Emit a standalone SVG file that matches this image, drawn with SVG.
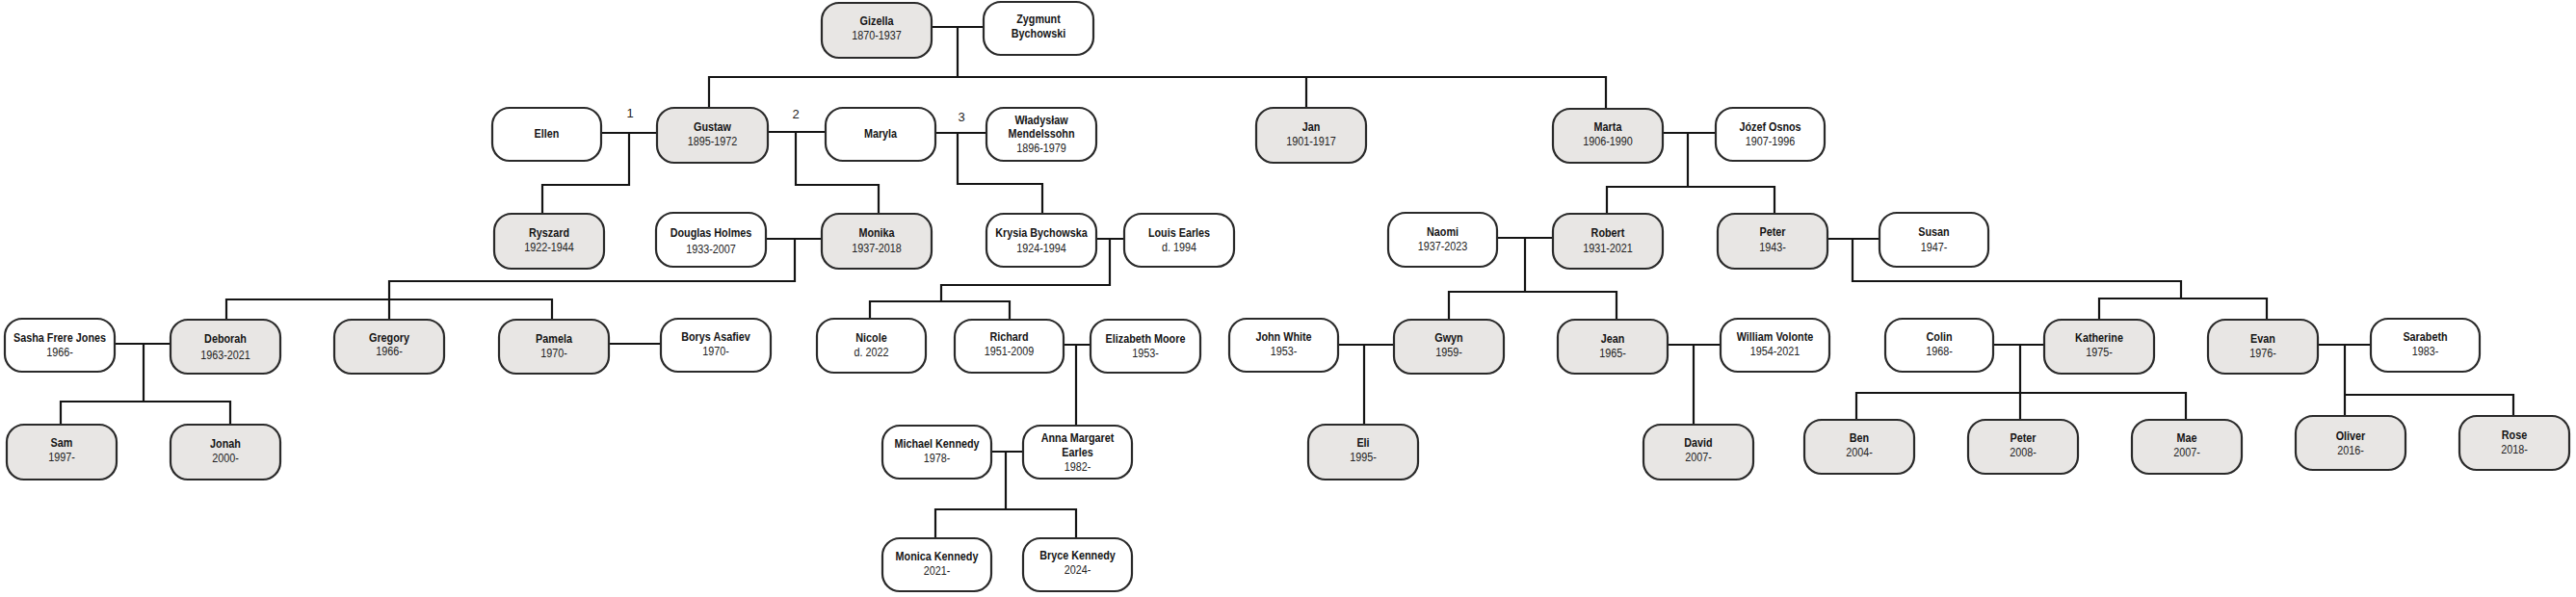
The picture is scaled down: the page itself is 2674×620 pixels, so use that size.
<svg xmlns="http://www.w3.org/2000/svg" width="2674" height="620" viewBox="0 0 2674 620">
<style>
.bg{fill:#ffffff}
.box{stroke:#2a2a2a;stroke-width:2.2}
.g{fill:#e8e6e4}
.w{fill:#ffffff}
.n{font-family:"Liberation Sans",Arial,sans-serif;font-size:13.5px;font-weight:bold;fill:#141414;text-anchor:middle}
.d{font-family:"Liberation Sans",Arial,sans-serif;font-size:13.5px;fill:#222222;text-anchor:middle}
.lbl{font-family:"Liberation Sans",Arial,sans-serif;font-size:13px;fill:#222222;text-anchor:middle}
.c{fill:none;stroke:#141414;stroke-width:2.2;stroke-linecap:square}
</style>
<rect class="bg" x="0" y="0" width="2674" height="620"/>
<g id="connectors">
<path class="c" d="M967,28 H1021 M994,28 V80 M736,80 H1667 M736,80 V112 M1356,80 V112 M1667,80 V113"/>
<path class="c" d="M624,138 H682 M653,138 V192 H563 V222"/>
<path class="c" d="M797,137 H857 M826,137 V192 H912 V222"/>
<path class="c" d="M971,138 H1024 M994,138 V191 H1082 V222"/>
<path class="c" d="M1726,138 H1781 M1752,138 V194 M1668,222 V194 H1842 V222"/>
<path class="c" d="M795,248 H853 M825,248 V292 H404 V332 M235,332 V311 H573 V332"/>
<path class="c" d="M1138,248 H1167 M1152,248 V296 H977 V313 M903,332 V313 H1048 V332"/>
<path class="c" d="M1554,247 H1612 M1583,247 V303 M1504,332 V303 H1678 V332"/>
<path class="c" d="M1897,248 H1951 M1923,248 V292 H2264 V310 M2179,332 V310 H2353 V332"/>
<path class="c" d="M119,357 H177 M149,357 V417 M63,441 V417 H239 V441"/>
<path class="c" d="M632,357 H686"/>
<path class="c" d="M1104,358 H1132 M1117,358 V442"/>
<path class="c" d="M1389,358 H1447 M1416,358 V441"/>
<path class="c" d="M1731,358 H1786 M1758,358 V441"/>
<path class="c" d="M2069,358 H2122 M2097,358 V436 M1927,436 V408 H2269 V436"/>
<path class="c" d="M2406,358 H2461 M2434,358 V432 M2434,410 H2609 V432"/>
<path class="c" d="M1029,469 H1062 M1044,469 V529 M971,559 V529 H1117 V559"/>
<text class="lbl" x="654" y="122">1</text>
<text class="lbl" x="826" y="123">2</text>
<text class="lbl" x="998" y="126">3</text>
</g>
<g id="gizella"><rect class="box g" x="853" y="3" width="114" height="57" rx="18"/><g transform="translate(910 0) scale(0.8 1)"><text class="n" x="0" y="26">Gizella</text><text class="d" x="0" y="41">1870-1937</text></g></g>
<g id="zygmunt"><rect class="box w" x="1021" y="2" width="114" height="55" rx="18"/><g transform="translate(1078 0) scale(0.8 1)"><text class="n" x="0" y="24">Zygmunt</text><text class="n" x="0" y="39">Bychowski</text></g></g>
<g id="ellen"><rect class="box w" x="511" y="112" width="113" height="55" rx="18"/><g transform="translate(567.5 0) scale(0.8 1)"><text class="n" x="0" y="143">Ellen</text></g></g>
<g id="gustaw"><rect class="box g" x="682" y="112" width="115" height="57" rx="18"/><g transform="translate(739.5 0) scale(0.8 1)"><text class="n" x="0" y="136">Gustaw</text><text class="d" x="0" y="151">1895-1972</text></g></g>
<g id="maryla"><rect class="box w" x="857" y="112" width="114" height="55" rx="18"/><g transform="translate(914 0) scale(0.8 1)"><text class="n" x="0" y="143">Maryla</text></g></g>
<g id="wladyslaw"><rect class="box w" x="1024" y="112" width="114" height="55" rx="18"/><g transform="translate(1081 0) scale(0.8 1)"><text class="n" x="0" y="129">Władysław</text><text class="n" x="0" y="143">Mendelssohn</text><text class="d" x="0" y="158">1896-1979</text></g></g>
<g id="jan"><rect class="box g" x="1304" y="112" width="114" height="57" rx="18"/><g transform="translate(1361 0) scale(0.8 1)"><text class="n" x="0" y="136">Jan</text><text class="d" x="0" y="151">1901-1917</text></g></g>
<g id="marta"><rect class="box g" x="1612" y="113" width="114" height="56" rx="18"/><g transform="translate(1669 0) scale(0.8 1)"><text class="n" x="0" y="136">Marta</text><text class="d" x="0" y="151">1906-1990</text></g></g>
<g id="jozef"><rect class="box w" x="1781" y="112" width="113" height="55" rx="18"/><g transform="translate(1837.5 0) scale(0.8 1)"><text class="n" x="0" y="136">Józef Osnos</text><text class="d" x="0" y="151">1907-1996</text></g></g>
<g id="ryszard"><rect class="box g" x="513" y="222" width="114" height="57" rx="18"/><g transform="translate(570 0) scale(0.8 1)"><text class="n" x="0" y="246">Ryszard</text><text class="d" x="0" y="261">1922-1944</text></g></g>
<g id="douglas"><rect class="box w" x="681" y="221" width="114" height="56" rx="18"/><g transform="translate(738 0) scale(0.8 1)"><text class="n" x="0" y="246">Douglas Holmes</text><text class="d" x="0" y="263">1933-2007</text></g></g>
<g id="monika"><rect class="box g" x="853" y="222" width="114" height="57" rx="18"/><g transform="translate(910 0) scale(0.8 1)"><text class="n" x="0" y="246">Monika</text><text class="d" x="0" y="262">1937-2018</text></g></g>
<g id="krysia"><rect class="box w" x="1024" y="222" width="114" height="55" rx="18"/><g transform="translate(1081 0) scale(0.8 1)"><text class="n" x="0" y="246">Krysia Bychowska</text><text class="d" x="0" y="262">1924-1994</text></g></g>
<g id="louis"><rect class="box w" x="1167" y="222" width="114" height="55" rx="18"/><g transform="translate(1224 0) scale(0.8 1)"><text class="n" x="0" y="246">Louis Earles</text><text class="d" x="0" y="261">d. 1994</text></g></g>
<g id="naomi"><rect class="box w" x="1441" y="221" width="113" height="56" rx="18"/><g transform="translate(1497.5 0) scale(0.8 1)"><text class="n" x="0" y="245">Naomi</text><text class="d" x="0" y="260">1937-2023</text></g></g>
<g id="robert"><rect class="box g" x="1612" y="222" width="114" height="57" rx="18"/><g transform="translate(1669 0) scale(0.8 1)"><text class="n" x="0" y="246">Robert</text><text class="d" x="0" y="262">1931-2021</text></g></g>
<g id="peter1943"><rect class="box g" x="1783" y="222" width="114" height="57" rx="18"/><g transform="translate(1840 0) scale(0.8 1)"><text class="n" x="0" y="245">Peter</text><text class="d" x="0" y="261">1943-</text></g></g>
<g id="susan"><rect class="box w" x="1951" y="221" width="113" height="56" rx="18"/><g transform="translate(2007.5 0) scale(0.8 1)"><text class="n" x="0" y="245">Susan</text><text class="d" x="0" y="261">1947-</text></g></g>
<g id="sasha"><rect class="box w" x="5" y="331" width="114" height="55" rx="18"/><g transform="translate(62 0) scale(0.8 1)"><text class="n" x="0" y="355">Sasha Frere Jones</text><text class="d" x="0" y="370">1966-</text></g></g>
<g id="deborah"><rect class="box g" x="177" y="332" width="114" height="56" rx="18"/><g transform="translate(234 0) scale(0.8 1)"><text class="n" x="0" y="356">Deborah</text><text class="d" x="0" y="373">1963-2021</text></g></g>
<g id="gregory"><rect class="box g" x="347" y="332" width="114" height="56" rx="18"/><g transform="translate(404 0) scale(0.8 1)"><text class="n" x="0" y="355">Gregory</text><text class="d" x="0" y="369">1966-</text></g></g>
<g id="pamela"><rect class="box g" x="518" y="332" width="114" height="56" rx="18"/><g transform="translate(575 0) scale(0.8 1)"><text class="n" x="0" y="356">Pamela</text><text class="d" x="0" y="371">1970-</text></g></g>
<g id="borys"><rect class="box w" x="686" y="331" width="114" height="55" rx="18"/><g transform="translate(743 0) scale(0.8 1)"><text class="n" x="0" y="354">Borys Asafiev</text><text class="d" x="0" y="369">1970-</text></g></g>
<g id="nicole"><rect class="box w" x="848" y="331" width="113" height="56" rx="18"/><g transform="translate(904.5 0) scale(0.8 1)"><text class="n" x="0" y="355">Nicole</text><text class="d" x="0" y="370">d. 2022</text></g></g>
<g id="richard"><rect class="box w" x="991" y="332" width="113" height="55" rx="18"/><g transform="translate(1047.5 0) scale(0.8 1)"><text class="n" x="0" y="354">Richard</text><text class="d" x="0" y="369">1951-2009</text></g></g>
<g id="elizabeth"><rect class="box w" x="1132" y="332" width="114" height="55" rx="18"/><g transform="translate(1189 0) scale(0.8 1)"><text class="n" x="0" y="356">Elizabeth Moore</text><text class="d" x="0" y="371">1953-</text></g></g>
<g id="john"><rect class="box w" x="1276" y="331" width="113" height="55" rx="18"/><g transform="translate(1332.5 0) scale(0.8 1)"><text class="n" x="0" y="354">John White</text><text class="d" x="0" y="369">1953-</text></g></g>
<g id="gwyn"><rect class="box g" x="1447" y="332" width="114" height="56" rx="18"/><g transform="translate(1504 0) scale(0.8 1)"><text class="n" x="0" y="355">Gwyn</text><text class="d" x="0" y="370">1959-</text></g></g>
<g id="jean"><rect class="box g" x="1617" y="332" width="114" height="56" rx="18"/><g transform="translate(1674 0) scale(0.8 1)"><text class="n" x="0" y="356">Jean</text><text class="d" x="0" y="371">1965-</text></g></g>
<g id="william"><rect class="box w" x="1786" y="331" width="113" height="55" rx="18"/><g transform="translate(1842.5 0) scale(0.8 1)"><text class="n" x="0" y="354">William Volonte</text><text class="d" x="0" y="369">1954-2021</text></g></g>
<g id="colin"><rect class="box w" x="1957" y="331" width="112" height="55" rx="18"/><g transform="translate(2013 0) scale(0.8 1)"><text class="n" x="0" y="354">Colin</text><text class="d" x="0" y="369">1968-</text></g></g>
<g id="katherine"><rect class="box g" x="2122" y="332" width="114" height="56" rx="18"/><g transform="translate(2179 0) scale(0.8 1)"><text class="n" x="0" y="355">Katherine</text><text class="d" x="0" y="370">1975-</text></g></g>
<g id="evan"><rect class="box g" x="2292" y="332" width="114" height="56" rx="18"/><g transform="translate(2349 0) scale(0.8 1)"><text class="n" x="0" y="356">Evan</text><text class="d" x="0" y="371">1976-</text></g></g>
<g id="sarabeth"><rect class="box w" x="2461" y="331" width="113" height="55" rx="18"/><g transform="translate(2517.5 0) scale(0.8 1)"><text class="n" x="0" y="354">Sarabeth</text><text class="d" x="0" y="369">1983-</text></g></g>
<g id="sam"><rect class="box g" x="7" y="441" width="114" height="57" rx="18"/><g transform="translate(64 0) scale(0.8 1)"><text class="n" x="0" y="464">Sam</text><text class="d" x="0" y="479">1997-</text></g></g>
<g id="jonah"><rect class="box g" x="177" y="441" width="114" height="57" rx="18"/><g transform="translate(234 0) scale(0.8 1)"><text class="n" x="0" y="465">Jonah</text><text class="d" x="0" y="480">2000-</text></g></g>
<g id="michael"><rect class="box w" x="916" y="442" width="113" height="55" rx="18"/><g transform="translate(972.5 0) scale(0.8 1)"><text class="n" x="0" y="465">Michael Kennedy</text><text class="d" x="0" y="480">1978-</text></g></g>
<g id="anna"><rect class="box w" x="1062" y="442" width="113" height="55" rx="18"/><g transform="translate(1118.5 0) scale(0.8 1)"><text class="n" x="0" y="459">Anna Margaret</text><text class="n" x="0" y="474">Earles</text><text class="d" x="0" y="489">1982-</text></g></g>
<g id="eli"><rect class="box g" x="1358" y="441" width="114" height="57" rx="18"/><g transform="translate(1415 0) scale(0.8 1)"><text class="n" x="0" y="464">Eli</text><text class="d" x="0" y="479">1995-</text></g></g>
<g id="david"><rect class="box g" x="1706" y="441" width="114" height="57" rx="18"/><g transform="translate(1763 0) scale(0.8 1)"><text class="n" x="0" y="464">David</text><text class="d" x="0" y="479">2007-</text></g></g>
<g id="ben"><rect class="box g" x="1873" y="436" width="114" height="56" rx="18"/><g transform="translate(1930 0) scale(0.8 1)"><text class="n" x="0" y="459">Ben</text><text class="d" x="0" y="474">2004-</text></g></g>
<g id="peter2008"><rect class="box g" x="2043" y="436" width="114" height="56" rx="18"/><g transform="translate(2100 0) scale(0.8 1)"><text class="n" x="0" y="459">Peter</text><text class="d" x="0" y="474">2008-</text></g></g>
<g id="mae"><rect class="box g" x="2213" y="436" width="114" height="56" rx="18"/><g transform="translate(2270 0) scale(0.8 1)"><text class="n" x="0" y="459">Mae</text><text class="d" x="0" y="474">2007-</text></g></g>
<g id="oliver"><rect class="box g" x="2383" y="432" width="114" height="56" rx="18"/><g transform="translate(2440 0) scale(0.8 1)"><text class="n" x="0" y="457">Oliver</text><text class="d" x="0" y="472">2016-</text></g></g>
<g id="rose"><rect class="box g" x="2553" y="432" width="114" height="56" rx="18"/><g transform="translate(2610 0) scale(0.8 1)"><text class="n" x="0" y="456">Rose</text><text class="d" x="0" y="471">2018-</text></g></g>
<g id="monica"><rect class="box w" x="916" y="559" width="113" height="55" rx="18"/><g transform="translate(972.5 0) scale(0.8 1)"><text class="n" x="0" y="582">Monica Kennedy</text><text class="d" x="0" y="597">2021-</text></g></g>
<g id="bryce"><rect class="box w" x="1062" y="559" width="113" height="55" rx="18"/><g transform="translate(1118.5 0) scale(0.8 1)"><text class="n" x="0" y="581">Bryce Kennedy</text><text class="d" x="0" y="596">2024-</text></g></g>
</svg>
